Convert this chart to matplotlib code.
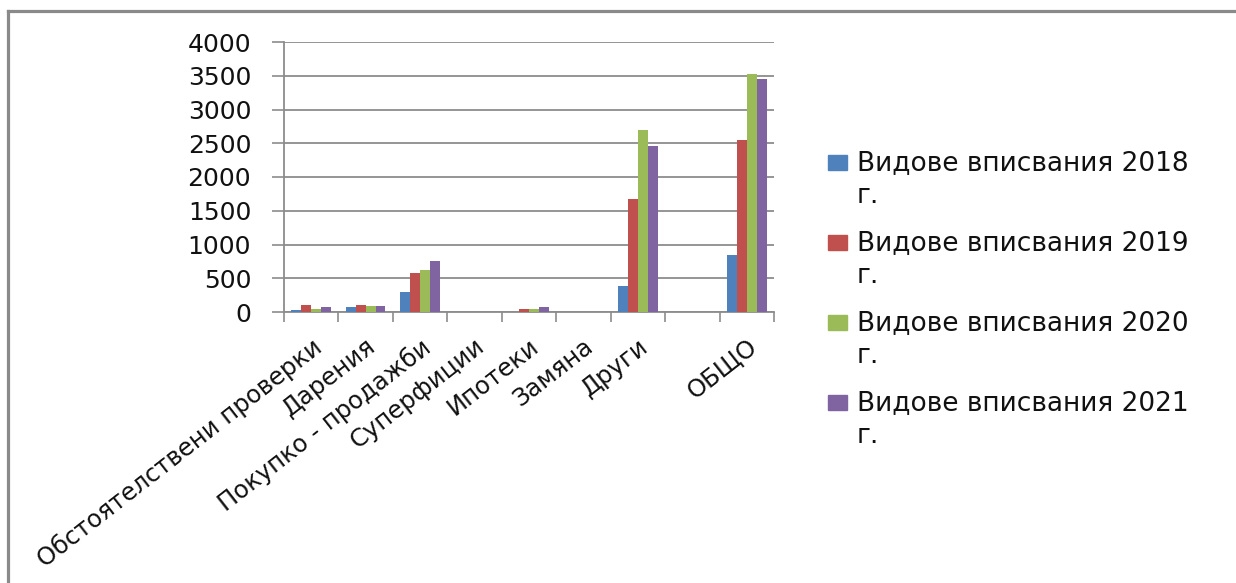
import matplotlib
matplotlib.use('Agg')
import matplotlib.pyplot as plt
from matplotlib.lines import Line2D
from matplotlib.patches import Rectangle
import numpy as np

CATEGORIES = ['Обстоятелствени проверки', 'Дарения', 'Покупко - продажби',
              'Суперфиции', 'Ипотеки', 'Замяна', 'Други', '', 'ОБЩО']
Y2018 = [30, 70, 290, 0, 0, 0, 390, 0, 840]
Y2019 = [100, 100, 575, 0, 45, 0, 1672, 0, 2548]
Y2020 = [50, 85, 615, 0, 45, 0, 2700, 0, 3532]
Y2021 = [70, 85, 753, 0, 70, 0, 2455, 0, 3458]
SERIES = ['Видове вписвания 2018', 'Видове вписвания 2019',
          'Видове вписвания 2020', 'Видове вписвания 2021']
COLORS = ['#4f81bd', '#c0504d', '#9bbb59', '#8064a2']
YTICKS = [0, 500, 1000, 1500, 2000, 2500, 3000, 3500, 4000]

W, H = 1236, 583
GRID = '#8c8c8c'
TXT = '#111111'
plt.rcParams['font.family'] = ['DejaVu Sans']

fig = plt.figure(figsize=(W / 100, H / 100), dpi=100)
ax = fig.add_axes([284 / W, 1 - 312 / H, (774 - 284) / W, (312 - 42) / H])

x = np.arange(len(CATEGORIES))
bw = 1 / 5.5          # four bars plus a 150 % gap per category
for i, (vals, c) in enumerate(zip([Y2018, Y2019, Y2020, Y2021], COLORS)):
    ax.bar(x + (i - 1.5) * bw, vals, width=bw, color=c, zorder=3, lw=0)

ax.set_xlim(-0.5, len(CATEGORIES) - 0.5)
ax.set_ylim(0, 4000)
ax.set_yticks(YTICKS)
ax.yaxis.grid(True, color=GRID, lw=1.3)
ax.set_axisbelow(True)
ax.tick_params(axis='y', length=8.6, width=1.2, color=GRID, labelsize=18,
               pad=15, labelcolor=TXT)
ax.set_xticks(x)
ax.set_xticklabels(CATEGORIES, rotation=38, ha='right', va='top',
                   rotation_mode='anchor', fontsize=17.5, color=TXT)
ax.tick_params(axis='x', length=0, pad=16)
ax.set_xticks(np.arange(-0.5, len(CATEGORIES)), minor=True)
ax.tick_params(axis='x', which='minor', length=7.2, width=1.2, color=GRID)
ax.spines[['top', 'right']].set_visible(False)
for s in ['left', 'bottom']:
    ax.spines[s].set_color(GRID)
    ax.spines[s].set_linewidth(1.3)

# legend: first line beside the swatch, "г." wrapped below
for i, (name, c) in enumerate(zip(SERIES, COLORS)):
    base = 170 + 80 * i
    fig.patches.append(Rectangle((828 / W, 1 - base / H), 19 / W, 15 / H,
                                 transform=fig.transFigure, color=c))
    fig.text(857 / W, 1 - base / H, name, fontsize=19, va='baseline',
             color=TXT)
    fig.text(857 / W, 1 - (base + 33) / H, 'г.', fontsize=19,
             va='baseline', color=TXT)

# outer chart frame (top and left edges only are visible)
fig.add_artist(Line2D([8 / W, 1], [1 - 11 / H] * 2, transform=fig.transFigure,
                      color='#8a8a8a', lw=2.3))
fig.add_artist(Line2D([8 / W] * 2, [0, 1 - 11 / H], transform=fig.transFigure,
                      color='#8a8a8a', lw=2.3))

fig.savefig('out.png', dpi=100)
